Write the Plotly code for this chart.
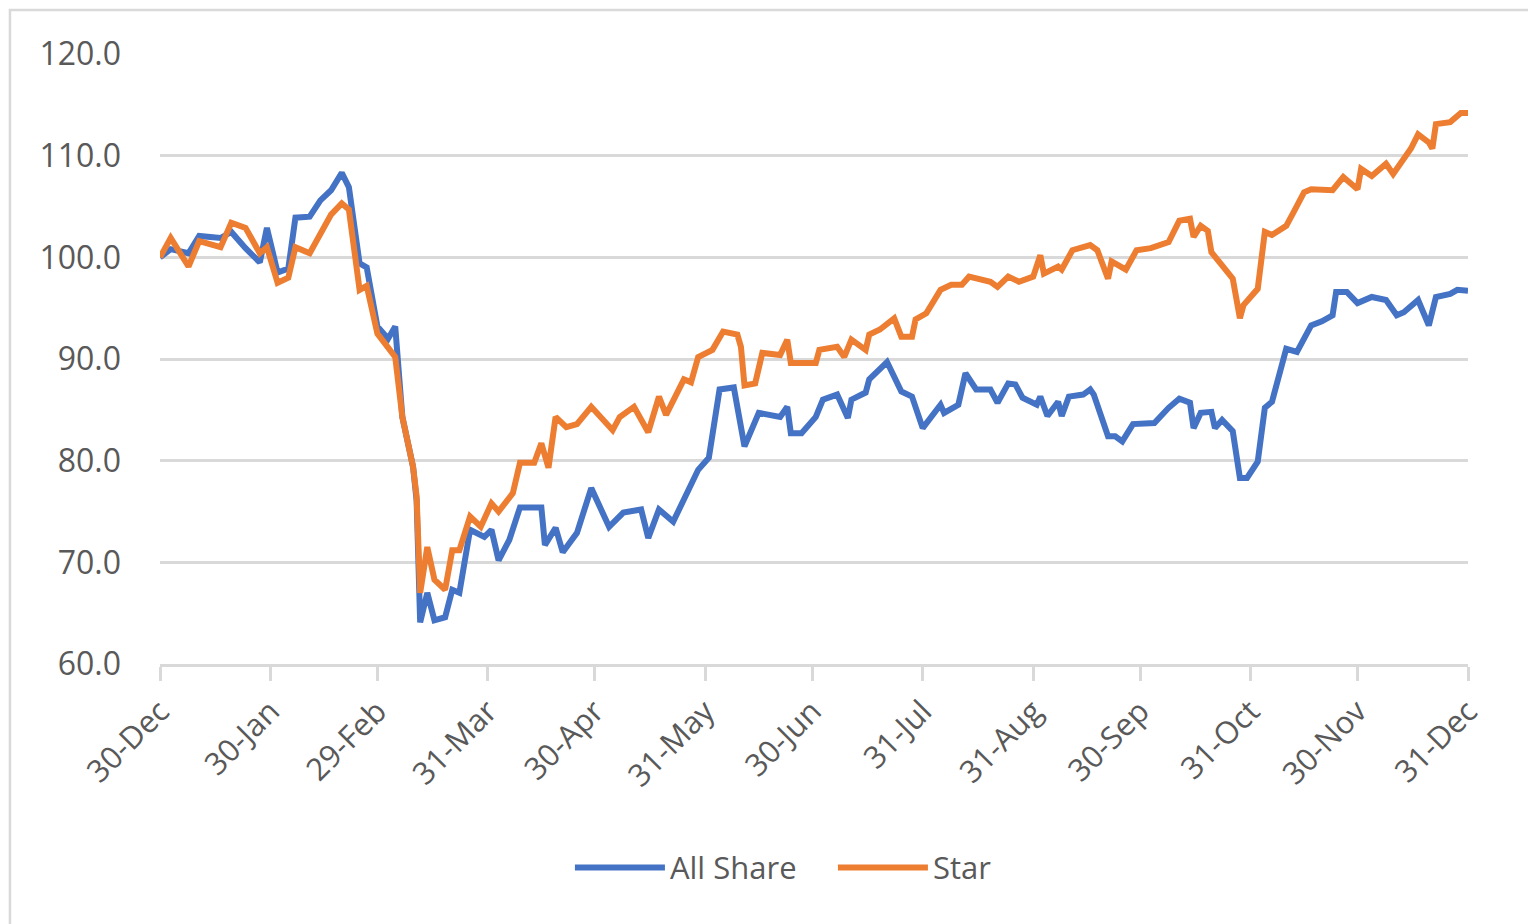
import plotly.graph_objects as go

# ---- data ----
allshare_dates = [
    "2019-12-30", "2020-01-02", "2020-01-07", "2020-01-10", "2020-01-16", "2020-01-19",
    "2020-01-23", "2020-01-27", "2020-01-29", "2020-02-01", "2020-02-04", "2020-02-06",
    "2020-02-10", "2020-02-13", "2020-02-16", "2020-02-19", "2020-02-21", "2020-02-24",
    "2020-02-26", "2020-02-29", "2020-03-03", "2020-03-05", "2020-03-07", "2020-03-10",
    "2020-03-11", "2020-03-12", "2020-03-14", "2020-03-16", "2020-03-19", "2020-03-21",
    "2020-03-23", "2020-03-26", "2020-03-30", "2020-04-01", "2020-04-03", "2020-04-06",
    "2020-04-09", "2020-04-15", "2020-04-16", "2020-04-19", "2020-04-21", "2020-04-25",
    "2020-04-29", "2020-05-04", "2020-05-08", "2020-05-13", "2020-05-15", "2020-05-18",
    "2020-05-22", "2020-05-27", "2020-05-29", "2020-06-01", "2020-06-04", "2020-06-08",
    "2020-06-11", "2020-06-15", "2020-06-21", "2020-06-23", "2020-06-24", "2020-06-27",
    "2020-07-01", "2020-07-03", "2020-07-07", "2020-07-10", "2020-07-11", "2020-07-15",
    "2020-07-16", "2020-07-21", "2020-07-25", "2020-07-28", "2020-07-31", "2020-08-05",
    "2020-08-06", "2020-08-10", "2020-08-12", "2020-08-15", "2020-08-19", "2020-08-21",
    "2020-08-24", "2020-08-26", "2020-08-28", "2020-09-01", "2020-09-02", "2020-09-04",
    "2020-09-07", "2020-09-08", "2020-09-10", "2020-09-14", "2020-09-16", "2020-09-17",
    "2020-09-21", "2020-09-23", "2020-09-25", "2020-09-28", "2020-10-04", "2020-10-08",
    "2020-10-11", "2020-10-14", "2020-10-15", "2020-10-17", "2020-10-20", "2020-10-21",
    "2020-10-23", "2020-10-26", "2020-10-28", "2020-10-30", "2020-11-02", "2020-11-04",
    "2020-11-06", "2020-11-09", "2020-11-10", "2020-11-13", "2020-11-17", "2020-11-20",
    "2020-11-23", "2020-11-24", "2020-11-27", "2020-11-30", "2020-12-04", "2020-12-08",
    "2020-12-11", "2020-12-13", "2020-12-17", "2020-12-20", "2020-12-22", "2020-12-26",
    "2020-12-28", "2020-12-31",
]
allshare_values = [
    100.0, 100.8, 100.4, 102.1, 101.9, 102.5,
    100.9, 99.5, 102.9, 98.5, 98.9, 103.9,
    104.0, 105.6, 106.6, 108.3, 106.9, 99.4,
    99.0, 93.2, 92.0, 93.2, 84.3, 79.4,
    76.1, 64.1, 67.0, 64.3, 64.6, 67.3,
    67.0, 73.2, 72.5, 73.2, 70.2, 72.2,
    75.4, 75.4, 71.7, 73.4, 71.0, 72.9,
    77.3, 73.5, 74.9, 75.2, 72.4, 75.2,
    74.0, 77.8, 79.1, 80.3, 87.0, 87.2,
    81.4, 84.7, 84.3, 85.3, 82.7, 82.7,
    84.3, 86.0, 86.5, 84.2, 86.0, 86.7,
    88.0, 89.7, 86.8, 86.3, 83.2, 85.5,
    84.7, 85.5, 88.6, 87.0, 87.0, 85.7,
    87.6, 87.5, 86.2, 85.5, 86.3, 84.4,
    85.8, 84.4, 86.3, 86.5, 87.0, 86.5,
    82.4, 82.4, 81.9, 83.6, 83.7, 85.2,
    86.1, 85.7, 83.2, 84.7, 84.8, 83.2,
    84.0, 82.9, 78.3, 78.3, 79.9, 85.2,
    85.8, 89.7, 91.0, 90.7, 93.3, 93.7,
    94.3, 96.6, 96.6, 95.5, 96.1, 95.8,
    94.3, 94.6, 95.8, 93.3, 96.1, 96.4,
    96.8, 96.7,
]

star_dates = [
    "2019-12-30", "2020-01-02", "2020-01-07", "2020-01-10", "2020-01-16", "2020-01-19",
    "2020-01-23", "2020-01-27", "2020-01-29", "2020-02-01", "2020-02-04", "2020-02-06",
    "2020-02-10", "2020-02-13", "2020-02-16", "2020-02-19", "2020-02-21", "2020-02-24",
    "2020-02-26", "2020-02-29", "2020-03-03", "2020-03-05", "2020-03-07", "2020-03-10",
    "2020-03-11", "2020-03-12", "2020-03-14", "2020-03-16", "2020-03-19", "2020-03-21",
    "2020-03-23", "2020-03-26", "2020-03-29", "2020-04-01", "2020-04-03", "2020-04-07",
    "2020-04-09", "2020-04-13", "2020-04-15", "2020-04-17", "2020-04-19", "2020-04-22",
    "2020-04-25", "2020-04-29", "2020-05-05", "2020-05-07", "2020-05-11", "2020-05-15",
    "2020-05-18", "2020-05-20", "2020-05-25", "2020-05-27", "2020-05-29", "2020-06-02",
    "2020-06-05", "2020-06-09", "2020-06-10", "2020-06-11", "2020-06-14", "2020-06-16",
    "2020-06-21", "2020-06-23", "2020-06-24", "2020-07-01", "2020-07-02", "2020-07-07",
    "2020-07-09", "2020-07-11", "2020-07-15", "2020-07-16", "2020-07-19", "2020-07-23",
    "2020-07-25", "2020-07-28", "2020-07-29", "2020-08-01", "2020-08-05", "2020-08-08",
    "2020-08-11", "2020-08-13", "2020-08-19", "2020-08-21", "2020-08-24", "2020-08-27",
    "2020-08-31", "2020-09-02", "2020-09-03", "2020-09-07", "2020-09-08", "2020-09-11",
    "2020-09-16", "2020-09-18", "2020-09-21", "2020-09-22", "2020-09-26", "2020-09-29",
    "2020-10-03", "2020-10-08", "2020-10-11", "2020-10-14", "2020-10-15", "2020-10-17",
    "2020-10-19", "2020-10-20", "2020-10-23", "2020-10-26", "2020-10-28", "2020-10-29",
    "2020-11-02", "2020-11-04", "2020-11-06", "2020-11-10", "2020-11-12", "2020-11-15",
    "2020-11-17", "2020-11-23", "2020-11-26", "2020-11-30", "2020-12-01", "2020-12-04",
    "2020-12-08", "2020-12-10", "2020-12-15", "2020-12-17", "2020-12-20", "2020-12-21",
    "2020-12-22", "2020-12-26", "2020-12-29", "2020-12-31",
]
star_values = [
    100.0, 101.9, 99.1, 101.6, 101.0, 103.4,
    102.9, 100.4, 101.0, 97.5, 98.0, 101.0,
    100.4, 102.4, 104.2, 105.3, 104.7, 96.8,
    97.2, 92.5, 91.2, 90.2, 84.3, 79.4,
    76.5, 67.0, 71.5, 68.3, 67.3, 71.2,
    71.2, 74.5, 73.5, 75.8, 75.0, 76.8,
    79.8, 79.8, 81.7, 79.3, 84.3, 83.3,
    83.6, 85.3, 83.0, 84.3, 85.3, 82.8,
    86.3, 84.5, 88.0, 87.7, 90.2, 90.9,
    92.7, 92.4, 91.2, 87.4, 87.6, 90.6,
    90.4, 91.9, 89.6, 89.6, 90.9, 91.2,
    90.2, 91.9, 90.9, 92.4, 92.9, 94.0,
    92.2, 92.2, 93.9, 94.5, 96.8, 97.3,
    97.3, 98.1, 97.6, 97.1, 98.1, 97.6,
    98.1, 100.2, 98.4, 99.1, 98.8, 100.7,
    101.2, 100.7, 97.9, 99.6, 98.8, 100.7,
    100.9, 101.5, 103.6, 103.8, 102.0, 103.1,
    102.6, 100.5, 99.2, 97.9, 94.0, 95.3,
    96.9, 102.5, 102.2, 103.1, 104.4, 106.4,
    106.7, 106.6, 107.9, 106.7, 108.7, 108.0,
    109.2, 108.2, 110.7, 112.1, 111.3, 110.7,
    113.1, 113.3, 114.2, 114.2,
]

tick_dates = [
    "2019-12-30", "2020-01-30", "2020-02-29", "2020-03-31", "2020-04-30", "2020-05-31",
    "2020-06-30", "2020-07-31", "2020-08-31", "2020-09-30", "2020-10-31", "2020-11-30",
    "2020-12-31",
]
tick_labels = [
    "30-Dec", "30-Jan", "29-Feb", "31-Mar", "30-Apr", "31-May", "30-Jun", "31-Jul",
    "31-Aug", "30-Sep", "31-Oct", "30-Nov", "31-Dec",
]

# ---- figure ----
FONT = "Open Sans"
TXT = "#595959"
GRID = "#d9d9d9"

fig = go.Figure()
fig.add_trace(go.Scatter(x=allshare_dates, y=allshare_values, mode="lines",
                         name="All Share", line=dict(color="#4472C4", width=6)))
fig.add_trace(go.Scatter(x=star_dates, y=star_values, mode="lines",
                         name="Star", line=dict(color="#ED7D31", width=6)))

fig.update_layout(
    width=1528, height=924,
    margin=dict(l=160, r=60, t=54, b=260),
    paper_bgcolor="white", plot_bgcolor="white",
    font=dict(family=FONT, size=32, color=TXT),
    legend=dict(orientation="h", x=0.3134, xanchor="left", y=-0.334, yanchor="middle",
                font=dict(family=FONT, size=31, color=TXT), itemwidth=90,
                entrywidth=158, entrywidthmode="pixels",
                traceorder="normal"),
    shapes=[dict(type="rect", xref="paper", yref="paper",
                 x0=-0.1147, x1=1.06, y0=-0.46, y1=1.072,
                 line=dict(color=GRID, width=2.5), fillcolor="rgba(0,0,0,0)", layer="below")],
)
fig.update_xaxes(
    type="date", range=["2019-12-30", "2020-12-31"],
    tickvals=tick_dates, ticktext=tick_labels, tickangle=-45,
    showgrid=False, showline=True, linecolor=GRID, linewidth=2.5,
    ticks="outside", ticklen=14, tickwidth=2.5, tickcolor=GRID,
    tickfont=dict(family=FONT, size=31, color=TXT), zeroline=False,
)
fig.update_yaxes(
    range=[60, 120], dtick=10, tick0=60, tickformat=".1f",
    showgrid=True, gridcolor=GRID, gridwidth=2.5, zeroline=False, showline=False,
    ticks="", ticklabelstandoff=38,
    tickfont=dict(family=FONT, size=32, color=TXT),
)

fig.write_html("out.html", config={"displayModeBar": False},
               post_script="document.body.style.margin='0';document.body.style.overflow='hidden';")
